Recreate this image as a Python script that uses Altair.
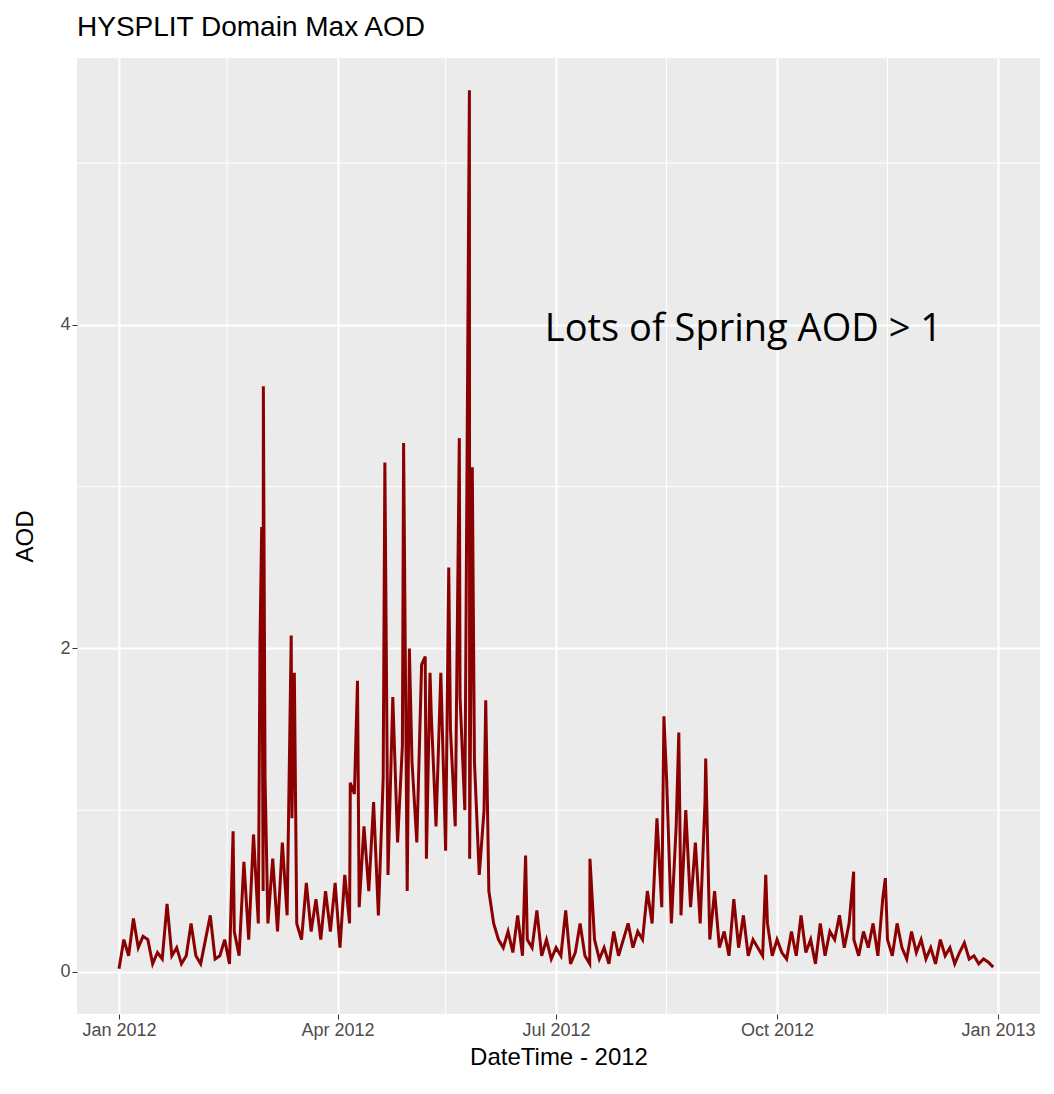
import altair as alt
import pandas as pd
import numpy as np

base_vals = [
 0.02,0.2,0.1,0.33,0.15,0.22,0.2,0.05,0.12,0.08,0.42,0.1,0.15,0.05,0.1,0.3,
 0.1,0.05,0.2,0.35,0.08,0.1,0.2,0.05,0.25,0.1,0.68,0.2,0.85,0.3,
 0.5,0.3,0.7,0.25,0.8,0.35,0.95,0.3,0.2,0.55,0.25,0.45,0.2,0.5,0.25,0.55,
 0.15,0.6,0.3,1.1,0.4,0.9,0.5,1.05,0.35,1.2,0.6,1.7,0.8,1.4,0.5,
 1.3,0.8,1.9,0.7,1.6,0.9,1.85,0.75,1.5,0.9,1.7,1.0,0.7,1.3,0.6,
 1.0,0.5,0.3,0.2,0.15,0.25,0.12,0.35,0.1,0.2,0.15,0.38,0.1,0.2,0.08,
 0.15,0.1,0.38,0.05,0.12,0.3,0.1,0.05,0.2,0.08,0.15,0.05,0.25,0.1,0.2,
 0.3,0.15,0.25,0.2,0.5,0.3,0.95,0.4,1.2,0.3,0.9,0.35,1.0,0.4,0.8,
 0.3,1.05,0.2,0.5,0.15,0.25,0.1,0.45,0.15,0.35,0.1,0.2,0.15,0.1,0.3,
 0.1,0.2,0.12,0.08,0.25,0.1,0.35,0.12,0.2,0.05,0.3,0.1,0.25,0.2,0.35,0.15,
 0.3,0.2,0.1,0.25,0.15,0.3,0.1,0.45,0.2,0.1,0.3,0.15,0.08,0.25,0.12,
 0.2,0.08,0.15,0.05,0.2,0.1,0.15,0.05,0.12,0.18,0.08,0.1,0.05,0.08,0.06,0.03]
base_days = [2*i for i in range(len(base_vals))]

spike_days = [47.5, 58.7, 59.4, 60.1, 60.8, 71.7, 73.0, 96.3, 99.3, 110.7, 118.5, 120.9, 127.5, 129.5,
              137.3, 141.7, 145.9, 147.1, 152.7, 169.3, 196.1, 226.9, 233.1, 244.3, 269.3, 305.9, 319.1]
spike_vals = [0.87, 2.03, 2.75, 3.62, 1.2, 2.08, 1.85, 1.17, 1.8, 3.15, 3.27, 2.0, 1.95, 1.85,
              2.5, 3.3, 5.45, 3.12, 1.68, 0.72, 0.7, 1.58, 1.48, 1.32, 0.6, 0.62, 0.58]

days = base_days + spike_days
vals = base_vals + spike_vals
order = np.argsort(days, kind="stable")
t0 = pd.Timestamp("2012-01-01")
df = pd.DataFrame({
    "date": [t0 + pd.Timedelta(days=float(days[i])) for i in order],
    "aod": [vals[i] for i in order],
})

xdom = [(t0 - pd.Timedelta(days=17.5)).isoformat(), (pd.Timestamp("2013-01-01") + pd.Timedelta(days=17.5)).isoformat()]
major = ["2012-01-01", "2012-04-01", "2012-07-01", "2012-10-01", "2013-01-01"]
minor = ["2012-02-15", "2012-05-16", "2012-08-16", "2012-11-16"]

xs = alt.Scale(domain=xdom, nice=False)
ys = alt.Scale(domain=[-0.26, 5.65], nice=False, zero=False)

minor_df = pd.DataFrame({"d": pd.to_datetime(minor)})
minor_v = alt.Chart(minor_df).mark_rule(color="white", strokeWidth=1).encode(
    x=alt.X("d:T", scale=xs))
minor_h = alt.Chart(pd.DataFrame({"y": [1, 3, 5]})).mark_rule(color="white", strokeWidth=1).encode(
    y=alt.Y("y:Q", scale=ys))

line = alt.Chart(df).mark_line(color="#8B0000", strokeWidth=3).encode(
    x=alt.X("date:T", scale=xs, title="DateTime - 2012",
            axis=alt.Axis(values=major, format="%b %Y", labelFontSize=18, titleFontSize=24,
                          gridColor="white", gridWidth=2, labelColor="#4D4D4D",
                          tickColor="#333333", domain=False, titlePadding=6)),
    y=alt.Y("aod:Q", scale=ys, title="AOD",
            axis=alt.Axis(values=[0, 2, 4], format="d", labelFontSize=18, titleFontSize=24,
                          gridColor="white", gridWidth=2, labelColor="#4D4D4D",
                          tickColor="#333333", domain=False, titlePadding=22)),
)

txt = alt.Chart(pd.DataFrame({"d": [t0 + pd.Timedelta(days=260)], "y": [3.97], "t": ["Lots of Spring AOD > 1"]})).mark_text(
    fontSize=38, font="Open Sans", color="black").encode(
    x=alt.X("d:T", scale=xs), y=alt.Y("y:Q", scale=ys), text="t:N")

chart = alt.layer(minor_v, minor_h, line, txt).properties(
    width=1038, height=1066,
    autosize=alt.AutoSizeParams(type="fit", contains="padding"),
    title=alt.TitleParams("HYSPLIT Domain Max AOD", anchor="start", frame="group", fontSize=28,
                          fontWeight="normal", font="Liberation Sans", color="black", offset=16),
    background="white",
).configure_view(fill="#EBEBEB", stroke=None).configure_axis(labelFont="Liberation Sans", titleFont="Liberation Sans", titleFontWeight="normal")

chart.save("out.html", embed_options={"renderer": "svg", "actions": False})
